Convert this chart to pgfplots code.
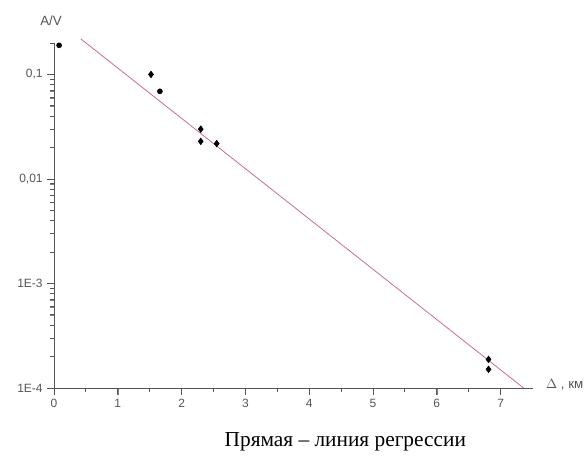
\documentclass[border=0pt]{standalone}
\usepackage{fontspec}
\setmainfont{Liberation Serif}
\setsansfont{Liberation Sans}
\usepackage{pgfplots}
\pgfplotsset{compat=1.18}
\definecolor{axgray}{HTML}{555555}
\definecolor{regline}{HTML}{C87080}
\begin{document}
\begin{tikzpicture}
\useasboundingbox (0,0) rectangle (439.5pt,341.25pt);
\begin{axis}[
  at={(40.5pt,50.25pt)}, anchor=south west,
  scale only axis, width=358.9pt, height=258.75pt,
  ymode=log, xmin=0, xmax=7.5, ymin=1e-4, ymax=0.2,
  axis lines=left,
  axis line style={-, axgray, line width=0.7pt},
  clip=false,
  xtick={0,1,2,3,4,5,6,7},
  ytick={1e-4,1e-3,1e-2,1e-1},
  yticklabels={1E-4,1E-3,{0,01},{0,1}},
  tick align=outside,
  major tick length=5pt,
  ticklabel style={font=\sffamily\fontsize{9}{10}\selectfont, text=axgray},
  /pgf/number format/assume math mode=true,
]
\addplot[regline, line width=0.6pt] coordinates {(0.42,0.219) (7.36,1e-4)};
\addplot[only marks, mark=*, mark size=1.9pt, black] coordinates {
  (0.08,0.19) (1.66,0.069)
};
\addplot[only marks, mark=diamond*, mark size=2.5pt, black] coordinates {
  (1.52,0.100) (2.30,0.030) (2.30,0.0229) (2.55,0.0218)
  (6.81,1.88e-4) (6.81,1.51e-4)
};
\pgfplotsinvokeforeach{0,1,2,3,4,5,6,7}{
  \draw[axgray, line width=0.7pt] (axis cs:#1,1e-4) -- ([yshift=-5pt]axis cs:#1,1e-4);
}
\pgfplotsinvokeforeach{0.5,1.5,2.5,3.5,4.5,5.5,6.5}{
  \draw[axgray, line width=0.7pt] (axis cs:#1,1e-4) -- ([yshift=-3pt]axis cs:#1,1e-4);
}
\pgfplotsinvokeforeach{1e-4,1e-3,1e-2,1e-1}{
  \draw[axgray, line width=0.7pt] (axis cs:0,#1) -- ([xshift=-5pt]axis cs:0,#1);
}
\pgfplotsinvokeforeach{2e-4,3e-4,4e-4,5e-4,6e-4,7e-4,8e-4,9e-4,
    2e-3,3e-3,4e-3,5e-3,6e-3,7e-3,8e-3,9e-3,
    2e-2,3e-2,4e-2,5e-2,6e-2,7e-2,8e-2,9e-2,0.2}{
  \draw[axgray, line width=0.7pt] (axis cs:0,#1) -- ([xshift=-3pt]axis cs:0,#1);
}
\end{axis}
\node[font=\sffamily\fontsize{10}{12}\selectfont, text=axgray] at (38.25pt,326pt) {A/V};
\node[font=\sffamily\fontsize{10}{12}\selectfont, text=axgray, anchor=west] at (406pt,53pt) {$\Delta$ , км};
\node[font=\fontsize{16}{18}\selectfont] at (259pt,9.75pt) {Прямая – линия регрессии};
\end{tikzpicture}
\end{document}
